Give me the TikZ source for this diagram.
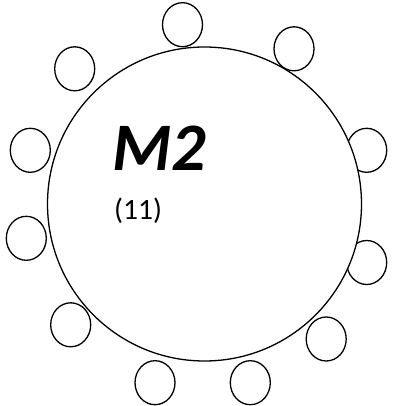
\documentclass[tikz,border=0pt]{standalone}
\usepackage{fontspec}
\setmainfont{Carlito}
\usetikzlibrary{shapes.geometric}
\begin{document}
\begin{tikzpicture}[x=1pt,y=-1pt,
  seat/.style={draw=black,line width=1.3pt,ellipse,minimum width=40pt,minimum height=44pt,inner sep=0pt},
  tablebig/.style={draw=black,fill=white,line width=1.3pt,circle,minimum size=314pt,inner sep=0pt}]
\useasboundingbox (0,0) rectangle (394,406);
\node[seat] (s1) at (182.5,24.7) {};
\node[seat] (s2) at (294,48.8) {};
\node[seat] (s3) at (74.7,68.8) {};
\node[seat] (s4) at (366.7,150.3) {};
\node[seat] (s5) at (30.3,150.3) {};
\node[seat] (s6) at (26.3,238.3) {};
\node[seat] (s7) at (366.7,262.5) {};
\node[seat] (s8) at (70.7,324.8) {};
\node[seat] (s9) at (326.2,339) {};
\node[seat] (s10) at (155,382.7) {};
\node[seat] (s11) at (250.3,382.7) {};
\node[tablebig] (t) at (204.5,204) {};
\node[anchor=base west,inner sep=0pt,font=\fontsize{68}{68}\selectfont\bfseries\itshape] (m) at (112,170) {M2};
\node[anchor=base west,inner sep=0pt,font=\fontsize{29.5}{29.5}\selectfont] (n) at (114,219) {(11)};
\end{tikzpicture}
\end{document}
